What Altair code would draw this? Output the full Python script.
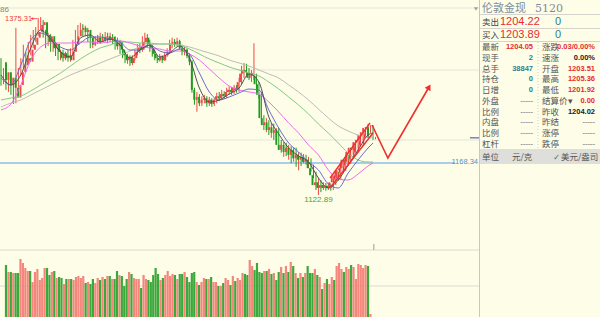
import altair as alt
import pandas as pd

# ---------------- data ----------------
opens = [1311, 1286, 1297, 1279, 1289, 1275, 1261, 1279, 1297, 1307,
         1317, 1312, 1329, 1336, 1346, 1354, 1364, 1368, 1350, 1340,
         1348, 1331, 1337, 1326, 1317, 1324, 1317, 1321, 1314, 1326,
         1336, 1348, 1357, 1360, 1354, 1357, 1346, 1336, 1340, 1346,
         1340, 1346, 1343, 1348, 1343, 1347, 1343, 1334, 1340, 1329,
         1321, 1314, 1319, 1310, 1317, 1326, 1333, 1329, 1340, 1346,
         1337, 1331, 1323, 1317, 1314, 1319, 1314, 1321, 1326, 1336,
         1340, 1337, 1341, 1331, 1326, 1329, 1320, 1312, 1272, 1258,
         1262, 1253, 1258, 1260, 1253, 1258, 1252, 1258, 1263, 1260,
         1266, 1263, 1269, 1272, 1269, 1275, 1272, 1283, 1295, 1300,
         1297, 1289, 1292, 1292, 1280, 1265, 1232, 1222, 1226, 1215,
         1219, 1211, 1215, 1194, 1187, 1194, 1184, 1190, 1180, 1187,
         1175, 1180, 1173, 1177, 1170, 1173, 1161, 1151, 1137, 1141,
         1133, 1137, 1133, 1136, 1133, 1141, 1150, 1147, 1158, 1161,
         1173, 1170, 1184, 1190, 1187, 1198, 1201, 1208, 1212, 1218,
         1219, 1203.51]
closes = [1286, 1297, 1279, 1289, 1275, 1261, 1279, 1297, 1307, 1317,
          1312, 1329, 1336, 1346, 1354, 1364, 1368, 1350, 1340, 1348,
          1331, 1337, 1326, 1317, 1324, 1317, 1321, 1314, 1326, 1336,
          1348, 1357, 1360, 1354, 1357, 1346, 1336, 1340, 1346, 1340,
          1346, 1343, 1348, 1343, 1347, 1343, 1334, 1340, 1329, 1321,
          1314, 1319, 1310, 1317, 1326, 1333, 1329, 1340, 1346, 1337,
          1331, 1323, 1317, 1314, 1319, 1314, 1321, 1326, 1336, 1340,
          1337, 1341, 1331, 1326, 1329, 1320, 1312, 1272, 1258, 1262,
          1253, 1258, 1260, 1253, 1258, 1252, 1258, 1263, 1260, 1266,
          1263, 1269, 1272, 1269, 1275, 1272, 1283, 1295, 1300, 1297,
          1289, 1295, 1296, 1280, 1265, 1232, 1222, 1226, 1215, 1219,
          1211, 1215, 1194, 1187, 1194, 1184, 1190, 1180, 1187, 1175,
          1180, 1173, 1177, 1170, 1173, 1161, 1151, 1137, 1141, 1133,
          1137, 1133, 1136, 1133, 1141, 1150, 1147, 1158, 1161, 1173,
          1170, 1184, 1190, 1187, 1198, 1201, 1208, 1212, 1218, 1219,
          1204.02, 1204.05]
highs = [1317, 1303, 1300, 1293, 1295, 1279, 1360, 1303, 1317, 1336,
         1326, 1340, 1350, 1357, 1361, 1374, 1375.31, 1371, 1357, 1353,
         1351, 1343, 1340, 1331, 1329, 1329, 1326, 1329, 1331, 1343,
         1357, 1364, 1367, 1365, 1363, 1360, 1350, 1346, 1348, 1350,
         1353, 1351, 1354, 1353, 1353, 1351, 1348, 1346, 1343, 1333,
         1326, 1323, 1321, 1321, 1329, 1337, 1338, 1348, 1353, 1351,
         1343, 1336, 1329, 1321, 1323, 1321, 1326, 1331, 1343, 1346,
         1344, 1346, 1343, 1336, 1333, 1331, 1324, 1314, 1275, 1269,
         1266, 1263, 1265, 1263, 1262, 1260, 1260, 1268, 1269, 1272,
         1270, 1275, 1277, 1276, 1279, 1279, 1289, 1306, 1310, 1309,
         1303, 1300, 1338, 1295, 1283, 1269, 1236, 1232, 1229, 1225,
         1224, 1218, 1218, 1201, 1198, 1197, 1194, 1192, 1191, 1190,
         1184, 1183, 1181, 1180, 1177, 1175, 1166, 1156, 1147, 1144,
         1141, 1140, 1140, 1139, 1147, 1156, 1156, 1166, 1170, 1180,
         1180, 1190, 1197, 1195, 1204, 1208, 1215, 1219, 1224, 1222,
         1222, 1205.36]
lows = [1278, 1280, 1272, 1269, 1265, 1252, 1253, 1275, 1293, 1303,
        1306, 1309, 1321, 1331, 1340, 1348, 1357, 1346, 1331, 1334,
        1326, 1326, 1320, 1314, 1314, 1312, 1314, 1312, 1312, 1321,
        1331, 1343, 1350, 1348, 1348, 1340, 1331, 1331, 1334, 1337,
        1337, 1340, 1340, 1338, 1340, 1337, 1329, 1329, 1323, 1317,
        1310, 1309, 1306, 1307, 1314, 1321, 1324, 1326, 1336, 1333,
        1326, 1319, 1314, 1310, 1312, 1310, 1313, 1319, 1323, 1331,
        1333, 1334, 1329, 1321, 1321, 1317, 1307, 1268, 1251, 1241,
        1249, 1249, 1253, 1248, 1249, 1248, 1249, 1253, 1256, 1258,
        1259, 1260, 1265, 1265, 1266, 1268, 1269, 1279, 1289, 1292,
        1286, 1283, 1286, 1275, 1260, 1226, 1215, 1212, 1208, 1204,
        1201, 1205, 1187, 1183, 1177, 1178, 1173, 1168, 1170, 1163,
        1158, 1164, 1168, 1166, 1161, 1156, 1147, 1130, 1122.89, 1127,
        1130, 1129, 1130, 1129, 1130, 1137, 1143, 1144, 1154, 1157,
        1164, 1167, 1180, 1183, 1184, 1192, 1198, 1204, 1208, 1211,
        1201, 1201.92]
volumes = [55, 48, 48, 47, 47, 47, 61, 57, 52, 49,
           49, 38, 48, 51, 40, 42, 52, 52, 45, 48,
           49, 42, 43, 42, 36, 41, 41, 41, 40, 43,
           44, 42, 44, 37, 38, 36, 41, 37, 42, 40,
           43, 41, 44, 44, 41, 41, 49, 45, 44, 34,
           41, 48, 46, 42, 41, 41, 32, 45, 41, 40,
           38, 45, 52, 46, 40, 42, 45, 49, 44, 46,
           45, 41, 46, 46, 48, 43, 38, 47, 48, 38, 35,
           38, 42, 41, 41, 43, 38, 38, 34, 34, 37,
           42, 40, 35, 44, 39, 42, 40, 47, 46, 45,
           60, 54, 50, 57, 48, 47, 49, 49, 51, 46,
           47, 40, 48, 53, 47, 54, 48, 58, 54, 47,
           42, 47, 43, 47, 54, 47, 47, 51, 45, 43,
           31, 37, 41, 36, 43, 40, 54, 57, 51, 48,
           53, 51, 55, 53, 41, 56, 55, 52, 55, 54,
           6]

ma_idx = [0, 4, 8, 12, 16, 20, 24, 28, 32, 36, 40, 44, 48, 52, 56, 60, 64, 68, 72, 76,
          80, 84, 88, 92, 96, 100, 104, 108, 112, 116, 120, 124, 128, 132, 136, 140, 144, 148, 150]
ma5 = [1293.1, 1278.9, 1293.1, 1331.4, 1356.9, 1344.1, 1325.7, 1318.6, 1345.5, 1349.8,
       1339.9, 1344.1, 1335.6, 1317.2, 1328.5, 1335.6, 1318.6, 1324.3, 1334.2, 1317.2,
       1274.6, 1254.8, 1257.6, 1266.1, 1274.6, 1294.5, 1283.1, 1233.5, 1209.4, 1189.6,
       1178.2, 1169.7, 1147.1, 1132.9, 1144.2, 1165.5, 1186.8, 1208.0, 1210.8]
ma10 = [1288.8, 1278.9, 1307.3, 1342.7, 1352.6, 1345.5, 1332.8, 1328.5, 1338.4, 1346.9,
        1346.9, 1344.1, 1339.9, 1328.5, 1328.5, 1335.6, 1327.1, 1324.3, 1329.9, 1322.8,
        1295.9, 1269.0, 1257.6, 1261.9, 1267.6, 1273.2, 1271.8, 1243.5, 1217.9, 1196.7,
        1183.9, 1169.7, 1158.4, 1138.5, 1132.9, 1154.1, 1172.6, 1189.6, 1196.7]
ma20 = [1243.5, 1252.0, 1278.9, 1314.3, 1332.8, 1338.4, 1338.4, 1338.4, 1339.9, 1339.9,
        1338.4, 1339.9, 1341.3, 1338.4, 1334.2, 1331.4, 1329.9, 1327.1, 1327.1, 1322.8,
        1314.3, 1301.6, 1288.8, 1277.5, 1271.8, 1269.0, 1266.1, 1254.8, 1240.6, 1225.0,
        1210.8, 1193.8, 1179.7, 1158.4, 1145.6, 1144.2, 1152.7, 1164.1, 1168.3]
ma60 = [1257.6, 1260.5, 1263.3, 1270.4, 1278.9, 1287.4, 1295.9, 1305.8, 1315.8, 1324.3,
        1331.4, 1335.6, 1339.9, 1339.9, 1338.4, 1338.4, 1337.0, 1337.0, 1335.6, 1329.9,
        1322.8, 1315.8, 1310.1, 1304.4, 1300.2, 1295.9, 1291.7, 1283.1, 1273.2, 1261.9,
        1250.5, 1237.8, 1223.6, 1210.8, 1196.7, 1182.5, 1172.6, 1169.7, 1169.7]
ma120 = [1247.7, 1253.4, 1257.6, 1264.7, 1271.8, 1278.9, 1286.0, 1293.1, 1298.7, 1304.4,
         1310.1, 1315.8, 1321.4, 1327.1, 1332.8, 1335.6, 1337.0, 1337.0, 1335.6, 1332.8,
         1328.5, 1324.3, 1320.0, 1314.3, 1310.1, 1305.8, 1300.2, 1294.5, 1288.8, 1278.9,
         1269.0, 1257.6, 1244.9, 1232.1, 1220.8, 1213.7, 1208.0, 1205.2, 1205.2]

grid_prices = [1388.1, 1300.2, 1200.9]
support_price = 1168.34
high_label = "1375.31"
low_label = "1122.89"

zig_idx = [149.6, 156.0, 172.6]
zig_price = [1222.2, 1175.4, 1276.1]
chan_up_idx = [132.7, 148.8]
chan_up_price = [1147.1, 1225.0]
chan_lo_idx = [132.7, 150.0]
chan_lo_price = [1132.9, 1210.8]
hatch_idx0 = [134, 136, 138, 140, 142, 144, 146]
hatch_p0 = [1138.8, 1147.8, 1156.8, 1165.8, 1174.8, 1183.8, 1192.8]
hatch_idx1 = [135, 137, 139, 141, 143, 145, 147]
hatch_p1 = [1158.2, 1167.9, 1177.6, 1187.3, 1196.9, 1206.6, 1216.3]

title_name = "伦敦金现"
title_code = "5120"
sell_label, sell_price, sell_vol = "卖出", "1204.22", "0"
buy_label, buy_price, buy_vol = "买入", "1203.89", "0"
left_labels = ["最新", "现手", "总手", "持仓", "日增", "外盘", "比例", "内盘", "比例", "杠杆"]
left_values = ["1204.05", "2", "38847", "0", "0", "-----", "-----", "-----", "-----", "-----"]
right_labels = ["涨跌", "速涨", "开盘", "最高", "最低", "结算价▾", "昨收", "昨结", "涨停", "跌停"]
right_values = ["0.03/0.00%", "0.00%", "1203.51", "1205.36", "1201.92", "0.00", "1204.02",
                "-----", "-----", "-----"]
unit_texts = ["单位", "元/克", "✓", "美元/盎司"]

# ---------------- styling ----------------
BG = "#fdfde8"
RED = "#f04848"
GREEN = "#1e9a1e"
VRED = "#f5867c"
VGREEN = "#3aa83a"
TEAL = "#2e7f8c"
CJK = "Noto Sans CJK SC"
NUM = "Liberation Sans"
NARROW = "Liberation Sans Narrow, Liberation Sans"

xs = alt.Scale(domain=[0, 150], range=[1, 373], nice=False, zero=False)
ys = alt.Scale(domain=[950.0, 1399.4], range=[317, 0], nice=False, zero=False)
vs = alt.Scale(domain=[0, 70], range=[320, 250], nice=False, zero=False)

n = len(closes)
cd = pd.DataFrame({"i": list(range(n)), "open": opens, "high": highs, "low": lows,
                   "close": closes, "vol": volumes})
cd["dir"] = ["up" if c >= o else "down" for o, c in zip(opens, closes)]

X = alt.X("i:Q", scale=xs, axis=None)
cdir = alt.Color("dir:N", scale=alt.Scale(domain=["up", "down"], range=[RED, GREEN]), legend=None)
vdir = alt.Color("dir:N", scale=alt.Scale(domain=["up", "down"], range=[VRED, VGREEN]), legend=None)

layers = []

# grid lines (price panel)
gdf = pd.DataFrame({"p": grid_prices})
layers.append(alt.Chart(gdf).mark_rule(color="#e6e6d6", strokeWidth=1).encode(
    y=alt.Y("p:Q", scale=ys, axis=None), x=alt.value(0), x2=alt.value(479)))

# volume panel lines
vl = pd.DataFrame({"v": [70, 34]})
layers.append(alt.Chart(vl).mark_rule(color="#dcdcd0", strokeWidth=1).encode(
    y=alt.Y("v:Q", scale=vs, axis=None), x=alt.value(0), x2=alt.value(479)))

# support line
sdf = pd.DataFrame({"p": [support_price], "t": [f"{support_price:.2f}"]})
layers.append(alt.Chart(sdf).mark_rule(color="#a9cdea", strokeWidth=2).encode(
    y=alt.Y("p:Q", scale=ys, axis=None), x=alt.value(0), x2=alt.value(455)))
layers.append(alt.Chart(sdf).mark_text(align="right", baseline="middle", fontSize=7.5,
                                       font=NARROW, color="#4f8fcf", dy=-1).encode(
    y=alt.Y("p:Q", scale=ys, axis=None), x=alt.value(478), text="t:N"))

# volume bars
layers.append(alt.Chart(cd).mark_bar(size=2.2).encode(
    x=X, y=alt.Y("vol:Q", scale=vs, axis=None), color=vdir))

# candles
layers.append(alt.Chart(cd).mark_rule(strokeWidth=1).encode(
    x=X, y=alt.Y("low:Q", scale=ys, axis=None), y2="high:Q", color=cdir))
layers.append(alt.Chart(cd).mark_bar(size=1.9).encode(
    x=X, y=alt.Y("open:Q", scale=ys, axis=None), y2="close:Q", color=cdir))

# moving averages
ma_names = ["MA120", "MA60", "MA20", "MA10", "MA5"]
ma_cols = ["#bdbdb6", "#86c886", "#f06af0", "#6a6ad2", "#505050"]
rows = []
for name, vals in zip(ma_names, [ma120, ma60, ma20, ma10, ma5]):
    for k, v in zip(ma_idx, vals):
        rows.append({"i": k, "p": v, "ma": name})
mad = pd.DataFrame(rows)
layers.append(alt.Chart(mad).mark_line(strokeWidth=1, interpolate="monotone").encode(
    x=X, y=alt.Y("p:Q", scale=ys, axis=None),
    color=alt.Color("ma:N", scale=alt.Scale(domain=ma_names, range=ma_cols), legend=None),
    detail="ma:N"))

# annotations: high / low labels
hdf = pd.DataFrame({"i": [1.6], "p": [1373.0], "t": [high_label]})
layers.append(alt.Chart(hdf).mark_text(align="left", baseline="middle", fontSize=7.5,
                                       font=NARROW, color="#f03c3c").encode(
    x=X, y=alt.Y("p:Q", scale=ys, axis=None), text="t:N"))
arr = pd.DataFrame({"i": [12.2], "i2": [14.6], "p": [1373.0]})
layers.append(alt.Chart(arr).mark_rule(color="#f03c3c", strokeWidth=0.8).encode(
    x=X, x2="i2:Q", y=alt.Y("p:Q", scale=ys, axis=None)))
arh = pd.DataFrame({"i": [12.5], "p": [1373.0]})
layers.append(alt.Chart(arh).mark_point(shape="triangle-left", filled=True, size=8,
                                        color="#f03c3c", opacity=1).encode(
    x=X, y=alt.Y("p:Q", scale=ys, axis=None)))
ldf = pd.DataFrame({"i": [128], "p": [1115.5], "t": [low_label]})
layers.append(alt.Chart(ldf).mark_text(align="center", baseline="middle", fontSize=8,
                                       font=NARROW, color="#3aaa3a").encode(
    x=X, y=alt.Y("p:Q", scale=ys, axis=None), text="t:N"))

# drawn arrows / channel
zdf = pd.DataFrame({"i": zig_idx, "p": zig_price, "o": [0, 1, 2]})
layers.append(alt.Chart(zdf).mark_line(color="#f03030", strokeWidth=1.6).encode(
    x=X, y=alt.Y("p:Q", scale=ys, axis=None), order="o:Q"))
adf = pd.DataFrame({"i": [zig_idx[-1]], "p": [zig_price[-1]]})
layers.append(alt.Chart(adf).mark_point(shape="triangle-up", angle=30, filled=True, size=45,
                                        color="#f03030", opacity=1).encode(
    x=X, y=alt.Y("p:Q", scale=ys, axis=None)))
cdf = pd.DataFrame({"i": chan_up_idx + chan_lo_idx, "p": chan_up_price + chan_lo_price,
                    "g": ["u", "u", "l", "l"]})
layers.append(alt.Chart(cdf).mark_line(color="#f03030", strokeWidth=1.4).encode(
    x=X, y=alt.Y("p:Q", scale=ys, axis=None), detail="g:N"))
hd = pd.DataFrame({"i": hatch_idx0, "p": hatch_p0, "i2": hatch_idx1, "p2": hatch_p1})
layers.append(alt.Chart(hd).mark_rule(color="#f03030", strokeWidth=1.1).encode(
    x=X, y=alt.Y("p:Q", scale=ys, axis=None), x2="i2:Q", y2="p2:Q"))

# current price marker + small tick in volume panel
cp = pd.DataFrame({"p": [closes[-1]]})
layers.append(alt.Chart(cp).mark_rule(color="#7f7fb8", strokeWidth=1.5).encode(
    y=alt.Y("p:Q", scale=ys, axis=None), x=alt.value(470), x2=alt.value(479)))
tk = pd.DataFrame({"i": [150.3], "v": [70], "v2": [76]})
layers.append(alt.Chart(tk).mark_rule(color="#bbbbbb", strokeWidth=1.5).encode(
    x=X, y=alt.Y("v:Q", scale=vs, axis=None), y2="v2:Q"))

# partial axis label top-left (cut by the left edge, as in the original)
tl = pd.DataFrame({"p": [grid_prices[0]], "t": ["1386"]})
layers.append(alt.Chart(tl).mark_text(align="right", baseline="middle", fontSize=8,
                                      font=NUM, color="#888888", dy=2).encode(
    x=alt.value(9), y=alt.Y("p:Q", scale=ys, axis=None), text="t:N"))

# ---------------- right info panel ----------------
one = pd.DataFrame({"a": [0]})
layers.append(alt.Chart(one).mark_rule(color="#c8c8c0", strokeWidth=1).encode(
    x=alt.value(479.5), y=alt.value(0), y2=alt.value(317)))
for yy in [14.5, 28.5, 41.5]:
    layers.append(alt.Chart(one).mark_rule(color="#d4d4cc", strokeWidth=1).encode(
        y=alt.value(yy), x=alt.value(480), x2=alt.value(600)))
layers.append(alt.Chart(one).mark_rule(color="#d0d0c8", strokeWidth=1, strokeDash=[1, 2]).encode(
    x=alt.value(538), y=alt.value(42), y2=alt.value(149)))
layers.append(alt.Chart(one).mark_rect(color="#dededa").encode(
    x=alt.value(480), x2=alt.value(600), y=alt.value(149), y2=alt.value(164)))
layers.append(alt.Chart(one).mark_point(shape="triangle-down", filled=True, size=18,
                                        color="#a0a0a0", opacity=1).encode(
    x=alt.value(476), y=alt.value(9)))

def txt(s, x, y, size, color, font=CJK, align="left", weight="normal"):
    d = pd.DataFrame({"t": [s]})
    return alt.Chart(d).mark_text(align=align, baseline="middle", fontSize=size, font=font,
                                  color=color, fontWeight=weight).encode(
        x=alt.value(x), y=alt.value(y), text="t:N")

layers.append(txt(title_name, 482, 9, 11, "#7d8c9c"))
layers.append(txt(title_code, 535, 9, 11, "#7d8c9c", font="DejaVu Serif"))
layers.append(txt(sell_label, 482, 22, 8.5, "#444444"))
layers.append(txt(sell_price, 500, 22, 11, "#e82c2c", font=NUM))
layers.append(txt(sell_vol, 555, 22, 11, TEAL, font=NUM))
layers.append(txt(buy_label, 482, 35, 8.5, "#444444"))
layers.append(txt(buy_price, 500, 35, 11, "#e82c2c", font=NUM))
layers.append(txt(buy_vol, 555, 35, 11, TEAL, font=NUM))

lcol = ["#e82c2c", TEAL, TEAL, TEAL, TEAL, "#9a9a9a", "#9a9a9a", "#9a9a9a", "#9a9a9a", "#9a9a9a"]
rcol = ["#e82c2c", "#222222", "#e82c2c", "#e82c2c", "#e82c2c", "#e82c2c", "#222222",
        "#9a9a9a", "#9a9a9a", "#9a9a9a"]
tab = pd.DataFrame({"r": list(range(10)), "ll": left_labels, "lv": left_values,
                    "rl": right_labels, "rv": right_values, "lc": lcol, "rc": rcol})
RY = alt.Y("r:Q", scale=alt.Scale(domain=[0, 9], range=[47, 144], nice=False, zero=False), axis=None)
layers.append(alt.Chart(tab).mark_text(align="left", baseline="middle", fontSize=8.5, font=CJK,
                                       color="#555555").encode(x=alt.value(482), y=RY, text="ll:N"))
layers.append(alt.Chart(tab).mark_text(align="left", baseline="middle", fontSize=8.5, font=CJK,
                                       color="#555555").encode(x=alt.value(542), y=RY, text="rl:N"))
layers.append(alt.Chart(tab).mark_text(align="right", baseline="middle", fontSize=7.5, font=NARROW,
                                       fontWeight="bold").encode(
    x=alt.value(533), y=RY, text="lv:N", color=alt.Color("lc:N", scale=None)))
layers.append(alt.Chart(tab).mark_text(align="right", baseline="middle", fontSize=7.5, font=NARROW,
                                       fontWeight="bold").encode(
    x=alt.value(595), y=RY, text="rv:N", color=alt.Color("rc:N", scale=None)))

layers.append(txt(unit_texts[0], 482, 156.5, 8.5, "#555555"))
layers.append(txt(unit_texts[1], 512, 156.5, 8.5, "#555555"))
layers.append(txt(unit_texts[2], 553, 156.5, 8.5, TEAL, font="DejaVu Sans"))
layers.append(txt(unit_texts[3], 561, 156.5, 8.5, "#555555"))

chart = alt.layer(*layers).resolve_scale(
    x="independent", y="independent", color="independent"
).properties(
    width=600, height=317, background=BG, padding=0, autosize="none"
).configure_view(stroke=None)

chart.save("out.html", embed_options={"renderer": "svg", "actions": False})
